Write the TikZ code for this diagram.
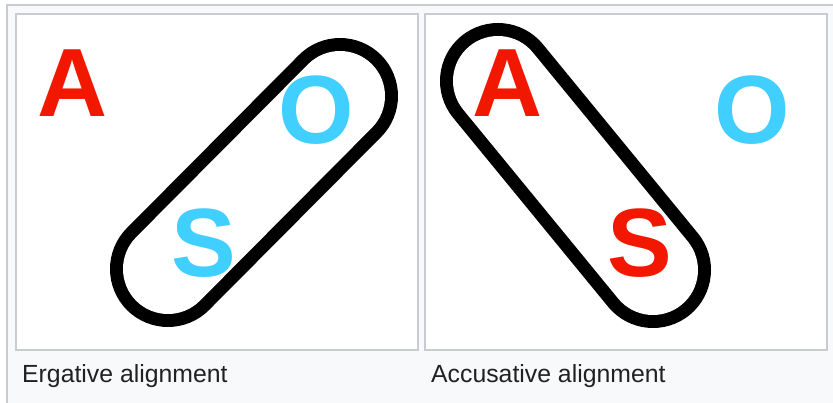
\documentclass[tikz,border=0pt]{standalone}
\usepackage{fontspec}
\setmainfont{Liberation Sans}
\usepackage{tikz}
\usetikzlibrary{positioning}

\definecolor{agentred}{RGB}{242,24,0}
\definecolor{objblue}{RGB}{64,207,255}
\definecolor{frameline}{RGB}{200,204,209}
\definecolor{framefill}{RGB}{248,249,250}
\definecolor{captiontext}{RGB}{32,33,34}

\tikzset{
  role/.style={anchor=base, inner sep=0pt, font=\fontsize{97}{97}\selectfont\bfseries},
  caption/.style={anchor=base west, inner sep=0pt, text=captiontext, font=\fontsize{24.8}{24.8}\selectfont},
  panel/.style={draw=frameline, fill=white, line width=2pt},
  pill/.style={draw=black, line width=13pt, double=white, double distance=90pt, line cap=round}
}

\begin{document}
\begin{tikzpicture}[x=1pt, y=-1pt]

  \useasboundingbox (0,0) rectangle (833,403);

  %% frame and the two panels
  \draw[draw=frameline, fill=framefill, line width=2pt] (7,5) rectangle (845,415);
  \draw[panel] (16,14) rectangle (418,350);
  \draw[panel] (425,14) rectangle (827,350);

  %% ergative: S grouped with O
  \coordinate (ergLow) at (168,269);
  \coordinate (ergHigh) at (340,96);
  \draw[pill] (ergLow) -- (ergHigh);

  \node[role, text=agentred] (ergA) at (73,117) {A};
  \node[role, text=objblue] (ergO) at (316,144) {O};
  \node[role, text=objblue] (ergS) at (204,277) {S};

  %% accusative: S grouped with A
  \coordinate (accHigh) at (498,81);
  \coordinate (accLow) at (653,270);
  \draw[pill] (accHigh) -- (accLow);

  \node[role, text=agentred] (accA) at (508,117) {A};
  \node[role, text=agentred] (accS) at (640,277) {S};
  \node[role, text=objblue] (accO) at (752,144) {O};

  %% captions
  \node[caption] (ergCap) at (22,382) {Ergative alignment};
  \node[caption] (accCap) at (431,382) {Accusative alignment};

\end{tikzpicture}
\end{document}
